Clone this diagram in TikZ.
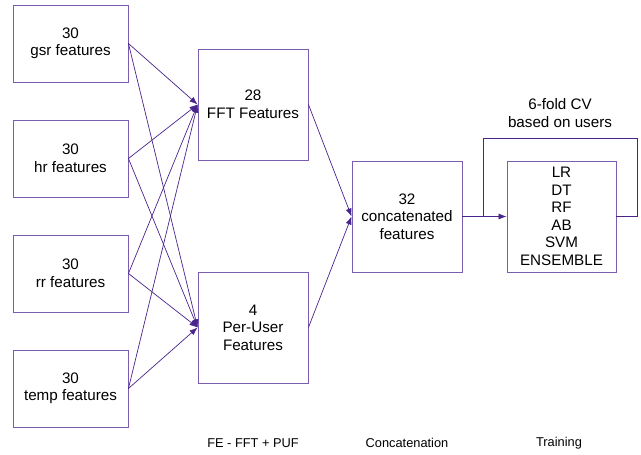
\documentclass[tikz,border=0pt]{standalone}
\usepackage{fontspec}
\setmainfont{Liberation Sans}
\usetikzlibrary{arrows.meta}
\definecolor{boxc}{RGB}{122,92,176}
\definecolor{linec}{RGB}{72,36,140}
\begin{document}
\begin{tikzpicture}[x=1pt,y=-1pt,
  box/.style={draw=boxc,line width=0.9pt,minimum width=115pt,minimum height=77pt,inner sep=0pt,align=center,font=\fontsize{15.2}{17.5}\selectfont},
  bigbox/.style={draw=boxc,line width=0.9pt,minimum width=110pt,minimum height=111pt,inner sep=0pt,align=center,font=\fontsize{15.2}{17.5}\selectfont},
  conn/.style={draw=linec,line width=0.7pt,-{Latex[length=8pt,width=6pt]}},
  plain/.style={draw=linec,line width=0.7pt},
  lab/.style={font=\fontsize{12.8}{15}\selectfont,inner sep=0pt}]
\useasboundingbox (0,0) rectangle (641,455);
\node[box] (gsr) at (70.5,43.5) {30\\gsr features};
\node[box] (hr) at (70.5,158.5) {30\\hr features};
\node[box] (rr) at (70.5,273.5) {30\\rr features};
\node[box] (temp) at (70.5,388.5) {30\\temp features};
\node[bigbox] (fft) at (253,104.5) {28\\FFT Features};
\node[bigbox] (puf) at (253,327.5) {4\\Per-User\\Features};
\node[bigbox] (cat) at (407,216.5) {32\\concatenated\\features};
\node[bigbox,minimum width=109pt] (mod) at (561.5,216.5) {LR\\DT\\RF\\AB\\SVM\\ENSEMBLE};
\foreach \s in {gsr,hr,rr,temp}{
  \draw[conn] (\s.east) -- (fft.west);
  \draw[conn] (\s.east) -- (puf.west);
}
\draw[conn] (fft.east) -- (cat.west);
\draw[conn] (puf.east) -- (cat.west);
\draw[conn] (cat.east) -- (mod.west);
\coordinate (b) at (483,216.5);
\coordinate (t1) at (483,138);
\coordinate (t2) at (637,138);
\coordinate (t3) at (637,216.5);
\draw[plain] (b) -- (t1) -- (t2) -- (t3) -- (mod.east);
\node[font=\fontsize{15.2}{17.5}\selectfont,align=center,inner sep=0pt] (cv) at (560,113) {6-fold CV\\based on users};
\node[lab] (l1) at (253,443) {FE - FFT + PUF};
\node[lab] (l2) at (407,443) {Concatenation};
\node[lab] (l3) at (559,443) {Training};
\end{tikzpicture}
\end{document}
